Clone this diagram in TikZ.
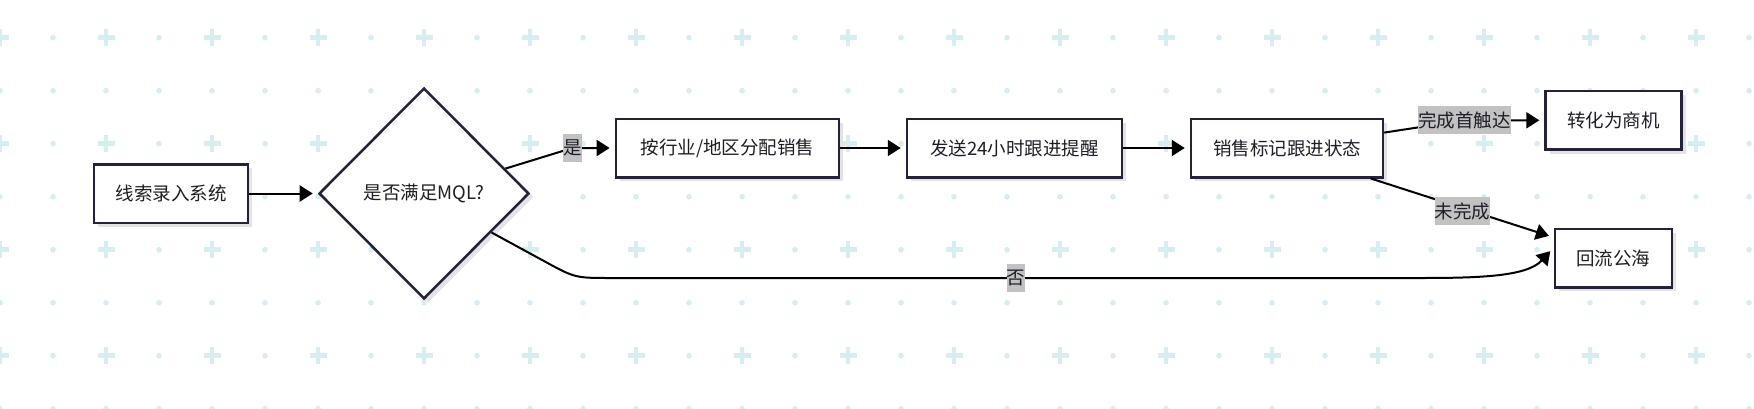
\documentclass[tikz,border=0pt]{standalone}
\usepackage{fontspec}
\newfontfamily\cjk{Noto Sans CJK SC}
\usepackage{xcolor}
\usetikzlibrary{arrows.meta,shapes.geometric,shadows}
\definecolor{gridcyan}{RGB}{212,238,242}
\definecolor{boxline}{RGB}{36,34,58}
\definecolor{tagfill}{RGB}{194,194,194}
\definecolor{inktext}{RGB}{30,30,40}

\tikzset{
  box/.style={draw=boxline, line width=2.5pt, fill=white, minimum height=58.5pt,
    inner sep=0pt, text=inktext, font=\cjk\fontsize{18.5}{20}\selectfont,
    drop shadow={shadow xshift=4pt, shadow yshift=-4pt, fill=black!11, opacity=1}},
  decision/.style={box, diamond, shape aspect=1, minimum width=210pt, minimum height=211pt},
  flow/.style={line width=2pt, -{Triangle[length=13pt,width=16pt]}, shorten >=5pt},
  tag/.style={fill=tagfill, inner xsep=0pt, inner ysep=0pt, minimum height=28pt,
    text=inktext, font=\cjk\fontsize{18.5}{20}\selectfont}
}

\begin{document}
\begin{tikzpicture}[x=1pt,y=1pt]
  \useasboundingbox (0,0) rectangle (1754,-408);

  % Background grid
  \begin{scope}
    \clip (0,0) rectangle (1754,-408);
    \fill[white] (0,0) rectangle (1754,-408);
    \foreach \r in {0,...,7}
      \foreach \c in {0,...,33} {
        \pgfmathsetmacro\px{53*\c}
        \pgfmathsetmacro\py{-37.7-53*\r}
        \pgfmathtruncatemacro\odd{mod(\r,2)+mod(\c,2)}
        \ifnum\odd=0
          \draw[gridcyan,line width=4.5pt] (\px-8.5,\py) -- (\px+8.5,\py)
            (\px,\py-8.5) -- (\px,\py+8.5);
        \else
          \fill[gridcyan] (\px,\py) circle (2.8pt);
        \fi
      }
  \end{scope}

  % Steps
  \node[box,minimum width=154pt] (lead) at (171,-193.5) {线索录入系统};
  \node[decision] (mql) at (424,-193.5) {是否满足MQL?};
  \node[box,minimum width=223pt] (assign) at (727.4,-148) {按行业/地区分配销售};
  \node[box,minimum width=215pt] (remind) at (1014.5,-148) {发送24小时跟进提醒};
  \node[box,minimum width=192pt] (track) at (1287,-148) {销售标记跟进状态};
  \node[box,minimum width=136pt] (convert) at (1613.6,-120.3) {转化为商机};
  \node[box,minimum width=117pt] (pool) at (1613.4,-258) {回流公海};

  % Bends
  \coordinate (yesbend) at (572.4,-148);
  \coordinate (donebend) at (1464.5,-120.3);
  \coordinate (noa) at (544.3,-261.2);
  \coordinate (nocorner) at (575,-278);
  \coordinate (nob) at (612,-278);
  \coordinate (noturn) at (1420,-278);
  \coordinate (noc1) at (1480,-278);
  \coordinate (noc2) at (1527,-276.5);

  % Connectors
  \draw[flow] (lead) -- (mql);
  \draw[flow] (mql.17) -- (yesbend) node[tag] (yes) {是} -- (assign);
  \draw[flow] (assign) -- (remind);
  \draw[flow] (remind) -- (track);
  \draw[flow] (track.9) -- (donebend) node[tag] (done) {完成首触达} -- (convert);
  \draw[flow] (track.-20) -- node[tag,pos=0.5,yshift=-3pt] (undone) {未完成} (pool.161);
  \draw[flow] (mql.-30) -- (noa) .. controls (nocorner) .. (nob)
    -- node[tag,pos=0.5] (no) {否} (noturn) .. controls (noc1) and (noc2) .. (pool.170);
\end{tikzpicture}
\end{document}
